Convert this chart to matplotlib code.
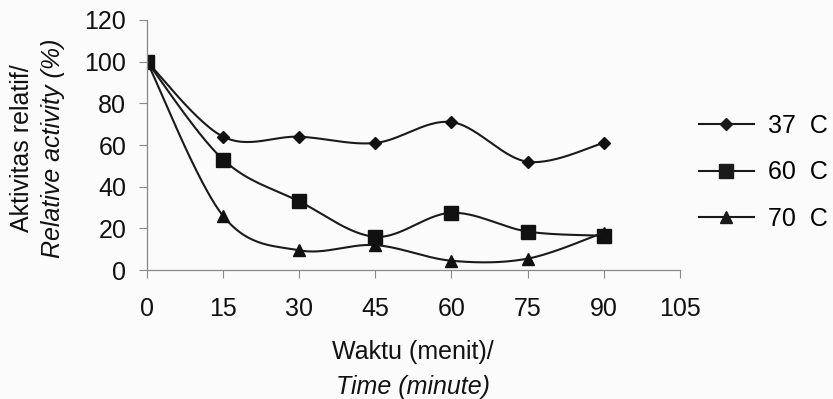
import numpy as np
import matplotlib
matplotlib.use("Agg")
from matplotlib import pyplot as plt
from matplotlib.lines import Line2D

plt.rcParams['font.family'] = ['Liberation Sans', 'DejaVu Sans']

time_min = [0, 15, 30, 45, 60, 75, 90]
act_37 = [100, 64, 64, 61, 71, 52, 61]
act_60 = [100, 53, 33, 16, 27.5, 18.5, 16.5]
act_70 = [100, 26, 9.5, 12, 4.5, 5.5, 18]
labels = ["37  C", "60  C", "70  C"]
markers = ["D", "s", "^"]
msizes = [6.5, 9.5, 9]


def smooth(x, y, n=30):
    # Catmull-Rom style smoothing like the spreadsheet's smoothed lines
    x = np.asarray(x, float)
    y = np.asarray(y, float)
    px = np.concatenate([[x[0]], x, [x[-1]]])
    py = np.concatenate([[y[0]], y, [y[-1]]])
    xs, ys = [], []
    t = np.linspace(0, 1, n)
    for i in range(1, len(px) - 2):
        p0x, p1x, p2x, p3x = px[i - 1], px[i], px[i + 1], px[i + 2]
        p0y, p1y, p2y, p3y = py[i - 1], py[i], py[i + 1], py[i + 2]
        c1x = p1x + (p2x - p0x) / 6
        c1y = p1y + (p2y - p0y) / 6
        c2x = p2x - (p3x - p1x) / 6
        c2y = p2y - (p3y - p1y) / 6
        bx = (1 - t) ** 3 * p1x + 3 * (1 - t) ** 2 * t * c1x + 3 * (1 - t) * t ** 2 * c2x + t ** 3 * p2x
        by = (1 - t) ** 3 * p1y + 3 * (1 - t) ** 2 * t * c1y + 3 * (1 - t) * t ** 2 * c2y + t ** 3 * p2y
        xs.extend(bx)
        ys.extend(by)
    return xs, ys


fig = plt.figure(figsize=(8.33, 3.99), dpi=100, facecolor="#fbfbfb")
ax = fig.add_axes([0.1765, 0.323, 0.6395, 0.627])
ax.set_facecolor("#fbfbfb")

handles = []
for vals, lab, mk, ms in zip([act_37, act_60, act_70], labels, markers, msizes):
    sx, sy = smooth(time_min, vals)
    ax.plot(sx, sy, color="#1a1a1a", lw=1.5)
    ax.plot(time_min, vals, ls="none", marker=mk, ms=ms, color="#111111")
    handles.append(Line2D([], [], color="#1a1a1a", lw=1.5, marker=mk, ms=ms))

ax.set_xlim(0, 105)
ax.set_ylim(0, 120)
ax.set_xticks(range(0, 106, 15))
ax.set_yticks(range(0, 121, 20))
for s in ["top", "right"]:
    ax.spines[s].set_visible(False)
for s in ["left", "bottom"]:
    ax.spines[s].set_color("#888888")
    ax.spines[s].set_linewidth(0.9)
ax.tick_params(direction="out", length=6, color="#888888", labelsize=18, colors="#111111")
ax.tick_params(axis="x", pad=13)
ax.tick_params(axis="y", pad=9)
ax.margins(0)

fig.text(0.496, 0.118, "Waktu (menit)/", ha="center", va="center", fontsize=18, color="#111111")
fig.text(0.496, 0.030, "Time (minute)", ha="center", va="center", fontsize=18, style="italic", color="#111111")
fig.text(0.026, 0.629, "Aktivitas relatif/", ha="center", va="center", rotation=90, fontsize=18, color="#111111")
fig.text(0.064, 0.629, "Relative activity (%)", ha="center", va="center", rotation=90, fontsize=18, style="italic", color="#111111")

fig.legend(handles, labels, loc="center left", bbox_to_anchor=(0.839, 0.568), frameon=False,
           fontsize=18, handlelength=2.2, labelspacing=0.89, handletextpad=0.56,
           borderpad=0, borderaxespad=0)

fig.savefig("out.png", dpi=100, facecolor=fig.get_facecolor())
